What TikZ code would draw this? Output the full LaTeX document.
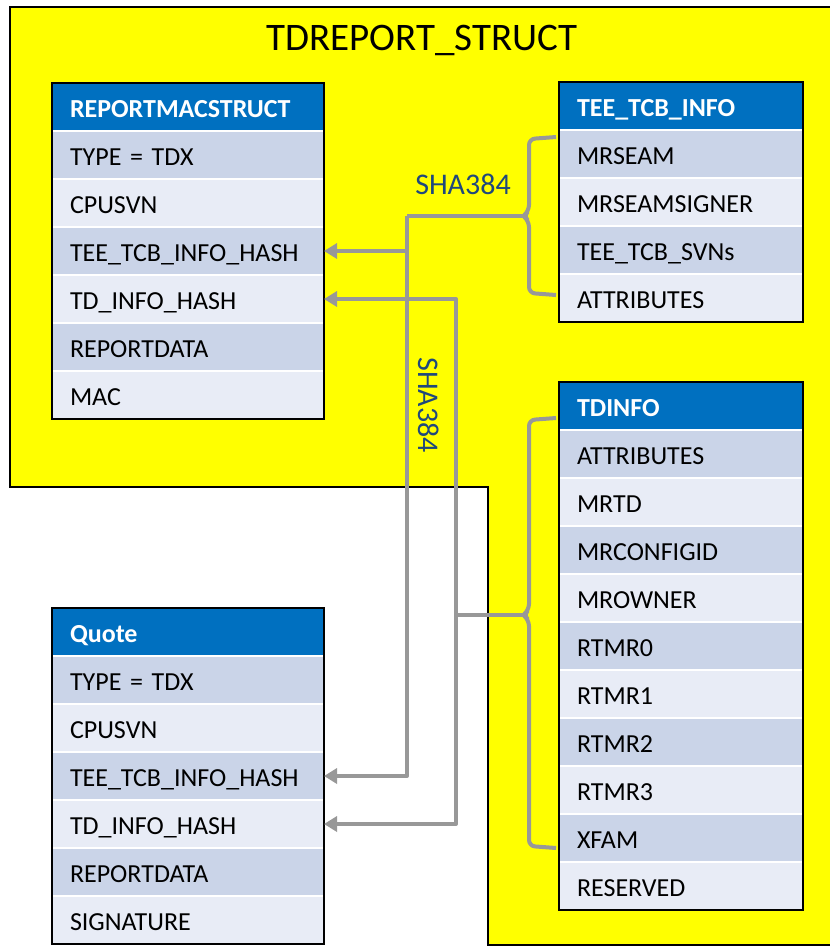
\documentclass[tikz,border=0pt]{standalone}
\usepackage{fontspec}
\setmainfont{Carlito}
\usetikzlibrary{arrows.meta, positioning}

\definecolor{rptyellow}{RGB}{255,255,0}
\definecolor{hdrblue}{HTML}{0070C0}
\definecolor{rowdark}{HTML}{CAD4E8}
\definecolor{rowlight}{HTML}{E8ECF6}
\definecolor{linkgray}{HTML}{989898}
\definecolor{hashblue}{HTML}{1F487C}

\begin{document}
\begin{tikzpicture}[
    x=1pt, y=-1pt,
    font=\fontsize{26}{30}\selectfont,
    cell/.style={draw=white, line width=1.5pt, outer sep=0pt, inner xsep=18pt, inner ysep=0pt, align=left, minimum height=48pt, text height=20pt, text depth=0pt},
    hdr/.style={cell, fill=hdrblue, text=white, font=\fontsize{26}{30}\selectfont\bfseries},
    rowa/.style={cell, fill=rowdark},
    rowb/.style={cell, fill=rowlight},
    tbl/.style={draw=black, line width=2pt},
    conn/.style={draw=linkgray, line width=4pt, line join=round},
    arr/.style={conn, -{Triangle[length=13pt, width=15pt]}},
    brace/.style={conn, rounded corners=6pt},
    hash/.style={text=hashblue, font=\fontsize{30}{34}\selectfont},
]
\useasboundingbox (0,0) rectangle (830,946);

% yellow TDREPORT area
\fill[rptyellow] (10,7) -- (830,7) -- (830,945) -- (488,945) -- (488,487) -- (10,487) -- cycle;
\draw[line width=1.5pt] (830,7) -- (10,7) -- (10,487) -- (488,487) -- (488,945) -- (830,945);
\node[font=\fontsize{39}{45}\selectfont] (title) at (422,40) {TDREPORT\_STRUCT};

% REPORTMACSTRUCT
\begin{scope}[nodes={text width=236pt}]
\node[hdr, anchor=north west] (rm0) at (52,83) {REPORTMACSTRUCT};
\node[rowa, below=0pt of rm0] (rm1) {TYPE = TDX};
\node[rowb, below=0pt of rm1] (rm2) {CPUSVN};
\node[rowa, below=0pt of rm2] (rm3) {TEE\_TCB\_INFO\_HASH};
\node[rowb, below=0pt of rm3] (rm4) {TD\_INFO\_HASH};
\node[rowa, below=0pt of rm4] (rm5) {REPORTDATA};
\node[rowb, below=0pt of rm5] (rm6) {MAC};
\end{scope}
\draw[tbl] (rm0.north west) rectangle (rm6.south east);

% Quote
\begin{scope}[nodes={text width=236pt}]
\node[hdr, anchor=north west] (q0) at (52,608) {Quote};
\node[rowa, below=0pt of q0] (q1) {TYPE = TDX};
\node[rowb, below=0pt of q1] (q2) {CPUSVN};
\node[rowa, below=0pt of q2] (q3) {TEE\_TCB\_INFO\_HASH};
\node[rowb, below=0pt of q3] (q4) {TD\_INFO\_HASH};
\node[rowa, below=0pt of q4] (q5) {REPORTDATA};
\node[rowb, below=0pt of q5] (q6) {SIGNATURE};
\end{scope}
\draw[tbl] (q0.north west) rectangle (q6.south east);

% TEE_TCB_INFO
\begin{scope}[nodes={text width=208pt}]
\node[hdr, anchor=north west] (tcb0) at (559,82) {TEE\_TCB\_INFO};
\node[rowa, below=0pt of tcb0] (tcb1) {MRSEAM};
\node[rowb, below=0pt of tcb1] (tcb2) {MRSEAMSIGNER};
\node[rowa, below=0pt of tcb2] (tcb3) {TEE\_TCB\_SVNs};
\node[rowb, below=0pt of tcb3] (tcb4) {ATTRIBUTES};
\end{scope}
\draw[tbl] (tcb0.north west) rectangle (tcb4.south east);

% TDINFO
\begin{scope}[nodes={text width=208pt}]
\node[hdr, anchor=north west] (td0) at (559,382) {TDINFO};
\node[rowa, below=0pt of td0] (td1) {ATTRIBUTES};
\node[rowb, below=0pt of td1] (td2) {MRTD};
\node[rowa, below=0pt of td2] (td3) {MRCONFIGID};
\node[rowb, below=0pt of td3] (td4) {MROWNER};
\node[rowa, below=0pt of td4] (td5) {RTMR0};
\node[rowb, below=0pt of td5] (td6) {RTMR1};
\node[rowa, below=0pt of td6] (td7) {RTMR2};
\node[rowb, below=0pt of td7] (td8) {RTMR3};
\node[rowa, below=0pt of td8] (td9) {XFAM};
\node[rowb, below=0pt of td9] (td10) {RESERVED};
\end{scope}
\draw[tbl] (td0.north west) rectangle (td10.south east);

% hash of TEE_TCB_INFO
\coordinate (tcbtip) at (523,216);
\coordinate (tcbbus) at (407,216);
\draw[brace] (556,137) -- (529,139) -- (529,211) -- (tcbtip) -- (529,221) -- (529,293) -- (556,295);
\draw[conn] (tcbtip) -- (tcbbus);
\draw[arr] (tcbbus) |- (rm3.east);
\draw[arr] (tcbbus) |- (q3.east);
\node[hash] (sha1) at (463,184) {SHA384};

% hash of TDINFO
\coordinate (tdtip) at (523,615);
\coordinate (tdbus) at (456,615);
\draw[brace] (556,418) -- (529,420) -- (529,610) -- (tdtip) -- (529,620) -- (529,846) -- (556,848);
\draw[conn] (tdtip) -- (tdbus);
\draw[arr] (tdbus) |- (rm4.east);
\draw[arr] (tdbus) |- (q4.east);
\node[hash, rotate=-90] (sha2) at (429,405) {SHA384};

\end{tikzpicture}
\end{document}
